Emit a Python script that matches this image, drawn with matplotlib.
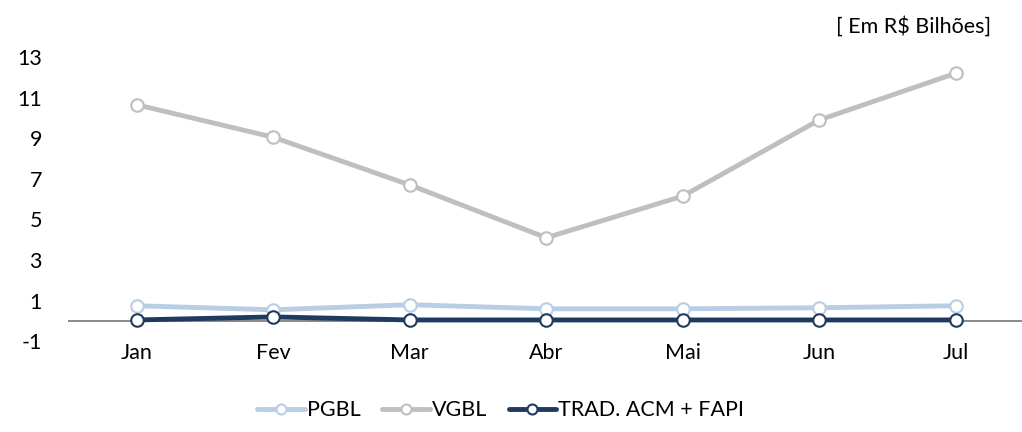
import matplotlib
matplotlib.use("Agg")
import matplotlib.pyplot as plt

plt.rcParams['font.family'] = ['Lato', 'DejaVu Sans']
plt.rcParams['axes.unicode_minus'] = False

meses = ["Jan", "Fev", "Mar", "Abr", "Mai", "Jun", "Jul"]
pgbl = [0.75, 0.55, 0.8, 0.6, 0.6, 0.65, 0.75]
vgbl = [10.65, 9.05, 6.7, 4.1, 6.15, 9.9, 12.2]
trad = [0.05, 0.2, 0.05, 0.05, 0.05, 0.05, 0.05]

fig = plt.figure(figsize=(10.22, 4.32), dpi=100)
ax = fig.add_axes([0.067, 0.21, 0.935, 0.658])

x = range(len(meses))
series = [("PGBL", pgbl, "#B9CDE5"), ("VGBL", vgbl, "#BFBFBF"), ("TRAD. ACM + FAPI", trad, "#1F3A5F")]
for nome, vals, cor in series:
    ax.plot(x, vals, color=cor, lw=3.5, marker="o", ms=9, mfc="white", mec=cor, mew=1.5,
            label=nome, solid_capstyle="round")

ax.set_xlim(-0.5, 6.5)
ax.set_ylim(-1, 13)
ax.set_yticks(range(-1, 14, 2))
ax.set_xticks(list(x))
ax.set_xticklabels(meses)
ax.axhline(0, color="#808080", lw=1.3, zorder=0)
for s in ax.spines.values():
    s.set_visible(False)
ax.tick_params(length=0, labelsize=15.5, colors="black")
ax.tick_params(axis="y", pad=19)
ax.tick_params(axis="x", pad=1)

fig.text(0.97, 0.94, "[ Em R$ Bilhões]", ha="right", va="center", fontsize=15.5)
fig.legend(loc="center", bbox_to_anchor=(0.49, 0.05), ncol=3, frameon=False, fontsize=15.5,
           handlelength=2.2, columnspacing=1.0, handletextpad=0.1, markerscale=0.8)

fig.savefig("out.png", dpi=100)
